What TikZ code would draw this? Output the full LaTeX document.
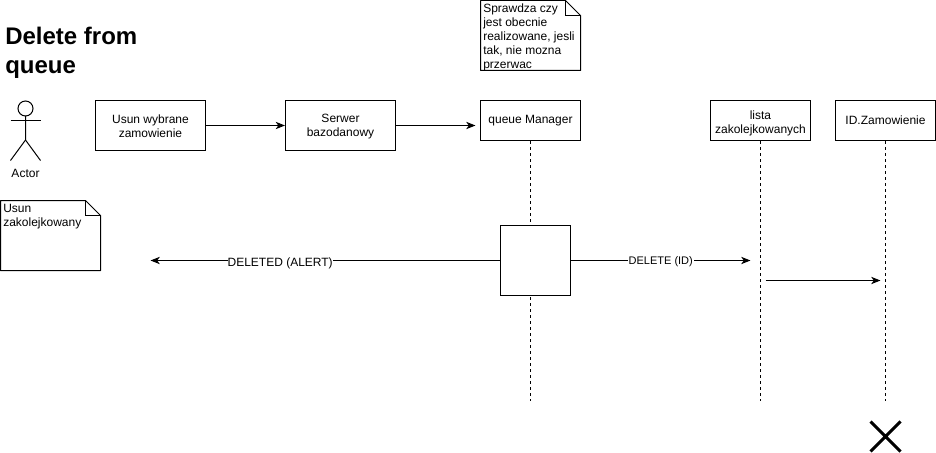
\documentclass[tikz,border=0pt]{standalone}
\usepackage{fontspec}
\setmainfont{Liberation Sans}
\usetikzlibrary{arrows.meta}
\tikzset{
  px/.style={x=0.75pt,y=-0.75pt},
  ln/.style={draw=black,line width=0.75pt},
  boxn/.style={ln,fill=white,rectangle,inner sep=0pt,minimum width=82.5pt,align=center,font=\fontsize{9}{10.5}\selectfont},
  bigbox/.style={boxn,minimum height=37.5pt},
  lifebox/.style={boxn,minimum width=75pt,minimum height=30pt},
  life/.style={ln,dash pattern=on 2.25pt off 2.25pt},
  msg/.style={ln,-{Stealth[length=7pt,width=5.5pt,inset=2pt]}},
  notetext/.style={inner sep=0pt,anchor=north west,align=left,font=\fontsize{9}{10.5}\selectfont},
  lab/.style={fill=white,inner sep=0pt,font=\fontsize{9}{10.5}\selectfont},
  labs/.style={fill=white,inner sep=0.5pt,font=\fontsize{8.25}{10}\selectfont}
}
\begin{document}
\begin{tikzpicture}[px]
\useasboundingbox (0,0) rectangle (936,453);
% title
\node[inner sep=0pt,anchor=north west,align=left,font=\bfseries\fontsize{18}{21.6}\selectfont] (title) at (5,27) {Delete from\\queue};
% actor
\draw[ln] (25.5,108.5) circle (7.5);
\coordinate (neck) at (25.5,116);
\coordinate (hip) at (25.5,140);
\draw[ln] (neck) -- (hip) -- (10.5,160.5);
\draw[ln] (hip) -- (40.5,160.5);
\draw[ln] (10.5,120.5) -- (40.5,120.5);
\node[font=\fontsize{9}{10.5}\selectfont,inner sep=0pt] (actor) at (25.5,173.5) {Actor};
% boxes
\node[bigbox] (usun) at (150.5,125.5) {\rule{0pt}{8.2pt}Usun wybrane\\zamowienie};
\node[bigbox] (serwer) at (340.5,125.5) {\rule{0pt}{8.2pt}Serwer\\bazodanowy};
\node[lifebox] (qm) at (530.5,120.5) {queue Manager};
\node[lifebox] (lista) at (760.5,120.5) {\rule{0pt}{11pt}lista\\zakolejkowanych};
\node[lifebox] (idz) at (885.5,120.5) {ID.Zamowienie};
% lifelines
\coordinate (qmend) at (530.5,400.5);
\coordinate (listaend) at (760.5,400.5);
\coordinate (idend) at (885.5,400.5);
\draw[life] (qm.south) -- (qmend);
\draw[life] (lista.south) -- (listaend);
\draw[life] (idz.south) -- (idend);
% notes
\draw[ln,fill=white,line join=round] (480.5,0.5) -- (565.5,0.5) -- (580.5,15.5) -- (580.5,70.5) -- (480.5,70.5) -- cycle;
\draw[ln] (565.5,0.5) -- (565.5,15.5) -- (580.5,15.5);
\node[notetext] (n1) at (483,4) {Sprawdza czy\\jest obecnie\\realizowane, jesli\\tak, nie mozna\\przerwac};
\draw[ln,fill=white,line join=round] (0.5,200.5) -- (85.5,200.5) -- (100.5,215.5) -- (100.5,270.5) -- (0.5,270.5) -- cycle;
\draw[ln] (85.5,200.5) -- (85.5,215.5) -- (100.5,215.5);
\node[notetext] (n2) at (3,204) {Usun\\zakolejkowany};
% activation
\node[ln,fill=white,rectangle,inner sep=0pt,minimum width=52.5pt,minimum height=52.5pt] (act) at (535.5,260.5) {};
% messages
\coordinate (a1) at (475.5,125.5);
\coordinate (a2) at (150.5,260.5);
\coordinate (a3) at (750.5,260.5);
\coordinate (a4s) at (765.5,280.5);
\coordinate (a4e) at (880.5,280.5);
\draw[msg] (usun.east) -- (serwer.west);
\draw[msg] (serwer.east) -- (a1);
\draw[msg] (act.west |- a2) -- node[lab,pos=0.629,yshift=-2.4pt] (l1) {DELETED (ALERT)} (a2);
\draw[msg] (act.east |- a3) -- node[labs,pos=0.5,yshift=-0.9pt] (l2) {DELETE (ID)} (a3);
\draw[msg] (a4s) -- (a4e);
% destroy mark
\coordinate (xa) at (870.5,421.5);
\coordinate (xb) at (900.5,451.5);
\coordinate (xc) at (900.5,421.5);
\coordinate (xd) at (870.5,451.5);
\draw[line width=2.25pt] (xa) -- (xb) (xc) -- (xd);
\end{tikzpicture}
\end{document}
